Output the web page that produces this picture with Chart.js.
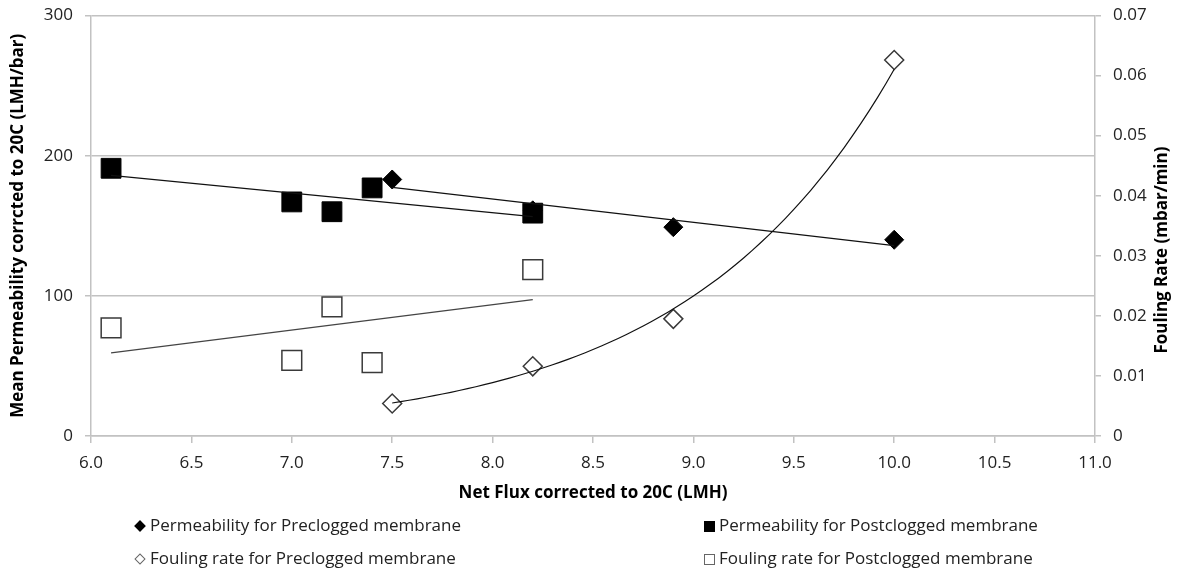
<!DOCTYPE html>
<html>
<head>
<meta charset="utf-8">
<script src="https://cdn.jsdelivr.net/npm/chart.js@4.4.1/dist/chart.umd.min.js"></script>
<style>
  body { margin: 0; background: #fff; }
  #wrap { position: relative; width: 1181px; height: 574px; font-family: "Open Sans", sans-serif; }
  #myChart { position: absolute; left: 0; top: 0; }
  .leg { position: absolute; font-size: 17px; color: #222; line-height: 20px; white-space: nowrap; }
  .mk { position: absolute; box-sizing: border-box; }
</style>
</head>
<body>
<div id="wrap">
  <canvas id="myChart" width="1181" height="574"></canvas>
</div>
<script>
// flux values (x) for each membrane state
const fluxPre = [7.5, 8.2, 8.9, 10.0];
const fluxPost = [6.1, 7.0, 7.2, 7.4, 8.2];

// permeability (left axis, LMH/bar)
const permPre = [183, 161, 149, 140];
const permPost = [191, 167, 160, 177, 159];

// fouling rate (right axis, mbar/min)
const foulPre = [0.0054, 0.0116, 0.0195, 0.0626];
const foulPost = [0.0180, 0.0126, 0.0215, 0.0122, 0.0277];

const xTicks = [6.0, 6.5, 7.0, 7.5, 8.0, 8.5, 9.0, 9.5, 10.0, 10.5, 11.0];

const seriesNames = [
    'Permeability for Preclogged membrane',
    'Permeability for Postclogged membrane',
    'Fouling rate for Preclogged membrane',
    'Fouling rate for Postclogged membrane'
];

const FONT = '"Open Sans", sans-serif';

// least squares line, like the spreadsheet trendline
function linFit(xs, ys) {
    const n = xs.length;
    const mx = xs.reduce((a, b) => a + b, 0) / n;
    const my = ys.reduce((a, b) => a + b, 0) / n;
    let sxy = 0, sxx = 0;
    xs.forEach((x, i) => { sxy += (x - mx) * (ys[i] - my); sxx += (x - mx) * (x - mx); });
    const slope = sxy / sxx;
    return x => my + slope * (x - mx);
}

function expFit(xs, ys) {
    const f = linFit(xs, ys.map(v => Math.log(v)));
    return x => Math.exp(f(x));
}

function trendPoints(fn, x0, x1, steps) {
    const pts = [];
    for (let i = 0; i <= steps; i++) {
        const x = x0 + (x1 - x0) * i / steps;
        pts.push({ x: x, y: fn(x) });
    }
    return pts;
}

const toXY = (xs, ys) => xs.map((x, i) => ({ x: x, y: ys[i] }));

const permPreFit = linFit(fluxPre, permPre);
const permPostFit = linFit(fluxPost, permPost);
const foulPreFit = expFit(fluxPre, foulPre);
const foulPostFit = linFit(fluxPost, foulPost);

const trendStyle = { type: 'line', borderColor: '#111', borderWidth: 1.2, pointRadius: 0, fill: false, order: 0 };

const datasets = [
    Object.assign({ data: trendPoints(permPreFit, 7.5, 10.0, 1), yAxisID: 'y' }, trendStyle),
    Object.assign({ data: trendPoints(permPostFit, 6.1, 8.2, 1), yAxisID: 'y' }, trendStyle),
    Object.assign({ data: trendPoints(foulPreFit, 7.5, 10.0, 60), yAxisID: 'y1' }, trendStyle),
    Object.assign({ data: trendPoints(foulPostFit, 6.1, 8.2, 1), yAxisID: 'y1' }, trendStyle, { borderColor: '#444' }),
    {
        type: 'scatter', label: seriesNames[1], data: toXY(fluxPost, permPost), yAxisID: 'y',
        pointStyle: 'rect', pointRadius: 14, backgroundColor: '#000', borderColor: '#000', borderWidth: 1, order: 1
    },
    {
        type: 'scatter', label: seriesNames[0], data: toXY(fluxPre, permPre), yAxisID: 'y',
        pointStyle: 'rectRot', pointRadius: 9.5, backgroundColor: '#000', borderColor: '#000', borderWidth: 1, order: 1
    },
    {
        type: 'scatter', label: seriesNames[3], data: toXY(fluxPost, foulPost), yAxisID: 'y1',
        pointStyle: 'rect', pointRadius: 14, backgroundColor: '#fff', borderColor: '#3a3a3a', borderWidth: 1.5, order: 1
    },
    {
        type: 'scatter', label: seriesNames[2], data: toXY(fluxPre, foulPre), yAxisID: 'y1',
        pointStyle: 'rectRot', pointRadius: 9.5, backgroundColor: '#fff', borderColor: '#3a3a3a', borderWidth: 1.5, order: 1
    }
];

// right axis title reads bottom-to-top, so draw it ourselves
const rightTitle = {
    id: 'rightTitle',
    afterDraw(chart) {
        const ctx = chart.ctx;
        ctx.save();
        ctx.translate(1162, 250);
        ctx.rotate(-Math.PI / 2);
        ctx.font = 'bold 17px ' + FONT;
        ctx.fillStyle = '#000';
        ctx.textAlign = 'center';
        ctx.textBaseline = 'middle';
        ctx.fillText('Fouling Rate (mbar/min)', 0, 0);
        ctx.restore();
    }
};

const gridColor = '#c2c2c2';

// keep the plot box where the original has it
const fixVertical = w => s => { s.width = w; s.paddingTop = 0; s.paddingBottom = 0; };

const ctx = document.getElementById('myChart').getContext('2d');
new Chart(ctx, {
    type: 'scatter',
    data: { datasets: datasets },
    plugins: [rightTitle],
    options: {
        responsive: false,
        animation: false,
        devicePixelRatio: 1,
        events: [],
        layout: { padding: { top: 15, bottom: 71, left: 0, right: 0 } },
        plugins: { legend: { display: false }, tooltip: { enabled: false } },
        scales: {
            x: {
                type: 'linear', position: 'bottom', min: 6, max: 11,
                afterBuildTicks: s => { s.ticks = xTicks.map(v => ({ value: v })); },
                afterFit: s => { s.height = 67; s.paddingLeft = 0; s.paddingRight = 0; },
                ticks: { font: { family: FONT, size: 17 }, color: '#222', padding: 10, maxRotation: 0,
                         callback: v => Number(v).toFixed(1) },
                grid: { drawOnChartArea: false, tickLength: 7, color: gridColor, lineWidth: 1.5 },
                border: { color: gridColor, width: 1.5 },
                title: { display: true, text: 'Net Flux corrected to 20C (LMH)', color: '#000',
                         font: { family: FONT, size: 17, weight: 'bold' }, padding: { top: 0, bottom: 0 } }
            },
            y: {
                position: 'left', min: 0, max: 300,
                ticks: { stepSize: 100, font: { family: FONT, size: 17 }, color: '#222', padding: 12 },
                afterFit: fixVertical(91),
                grid: { color: gridColor, lineWidth: 1.5, tickLength: 6 },
                border: { color: gridColor, width: 1.5 },
                title: { display: true, text: 'Mean Permeability corrcted to 20C (LMH/bar)', color: '#000',
                         font: { family: FONT, size: 17, weight: 'bold' }, padding: { top: 8, bottom: 0 } }
            },
            y1: {
                position: 'right', min: 0, max: 0.07,
                ticks: { stepSize: 0.01, font: { family: FONT, size: 17 }, color: '#222', padding: 12,
                         callback: v => v === 0 ? '0' : Number(v).toFixed(2) },
                afterFit: fixVertical(86),
                grid: { drawOnChartArea: false, color: gridColor, lineWidth: 1.5, tickLength: 6 },
                border: { color: gridColor, width: 1.5 }
            }
        }
    }
});

// legend below the chart, two columns like the original
const legendItems = [
    { name: seriesNames[0], col: 0, row: 0, shape: 'diamond', fill: true },
    { name: seriesNames[1], col: 1, row: 0, shape: 'square', fill: true },
    { name: seriesNames[2], col: 0, row: 1, shape: 'diamond', fill: false },
    { name: seriesNames[3], col: 1, row: 1, shape: 'square', fill: false }
];
const colX = [140, 709];
const rowY = [526, 559];
const wrap = document.getElementById('wrap');
legendItems.forEach(item => {
    const cx = colX[item.col], cy = rowY[item.row];
    const mk = document.createElement('div');
    mk.className = 'mk';
    const sz = item.shape === 'square' ? 11 : 8;
    mk.style.width = sz + 'px';
    mk.style.height = sz + 'px';
    mk.style.left = (cx - sz / 2) + 'px';
    mk.style.top = (cy - sz / 2) + 'px';
    mk.style.background = item.fill ? '#000' : '#fff';
    mk.style.border = item.fill ? '1px solid #000' : '1px solid #666';
    if (item.shape === 'diamond') mk.style.transform = 'rotate(45deg)';
    wrap.appendChild(mk);
    const t = document.createElement('div');
    t.className = 'leg';
    t.textContent = item.name;
    t.style.left = (cx + 10) + 'px';
    t.style.top = (cy - 11) + 'px';
    wrap.appendChild(t);
});
</script>
</body>
</html>
